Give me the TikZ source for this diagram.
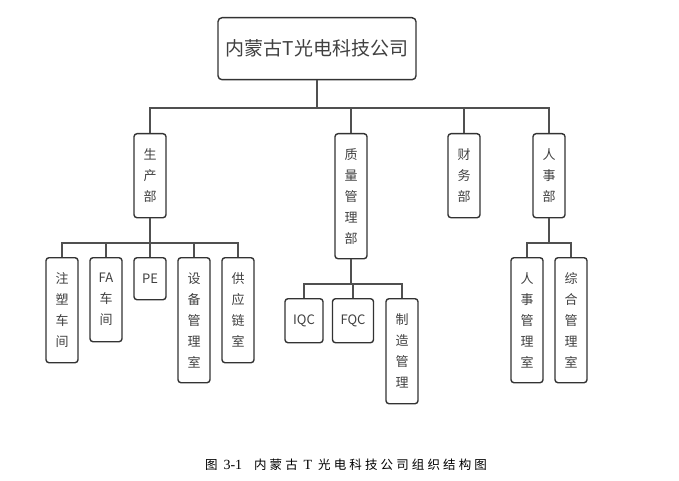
\documentclass[tikz,border=0pt]{standalone}
\usepackage{fontspec}
\setmainfont{Noto Sans CJK SC}
\newfontfamily\capfont[LetterSpace=25]{Noto Sans CJK SC}
\newfontfamily\capnum{Liberation Serif}
\usetikzlibrary{positioning,calc}
\definecolor{boxline}{RGB}{51,51,51}
\definecolor{linkgray}{RGB}{80,80,80}
\definecolor{textgray}{RGB}{64,64,64}
\tikzstyle{company} = [rectangle, rounded corners=4pt, draw=boxline, line width=1.4pt, minimum width=198pt, minimum height=62pt, anchor=north, text=textgray, font=\fontsize{19}{22}\selectfont]
\tikzstyle{dept} = [rectangle, rounded corners=3pt, draw=boxline, line width=1.4pt, minimum width=32pt, inner sep=0pt, anchor=north, align=center, text=textgray, font=\fontsize{13}{21}\selectfont]
\tikzstyle{link} = [line width=1.8pt, draw=linkgray]

\begin{document}
\begin{tikzpicture}[x=1pt, y=-1pt]
\useasboundingbox (0,0) rectangle (679,481);

% Company
\node [company] (company) at (317,17) {内蒙古T光电科技公司};

% Departments
\node [dept, minimum height=84pt] (prod) at (150,133) {生\\产\\部};
\node [dept, minimum height=125pt] (quality) at (351,133) {质\\量\\管\\理\\部};
\node [dept, minimum height=84pt] (finance) at (464,133) {财\\务\\部};
\node [dept, minimum height=84pt] (hr) at (549,133) {人\\事\\部};

% Production units
\node [dept, minimum height=105pt] (inject) at (62,257) {注\\塑\\车\\间};
\node [dept, minimum height=84pt] (fa) at (106,257) {FA\\车\\间};
\node [dept, minimum height=42pt] (pe) at (150,257) {PE};
\node [dept, minimum height=125pt] (equip) at (194,257) {设\\备\\管\\理\\室};
\node [dept, minimum height=105pt] (supply) at (238,257) {供\\应\\链\\室};

% Quality units
\node [dept, minimum width=38pt, minimum height=44pt] (iqc) at (304,298) {IQC};
\node [dept, minimum width=41pt, minimum height=44pt] (fqc) at (353,298) {FQC};
\node [dept, minimum height=105pt] (mfg) at (402,298) {制\\造\\管\\理};

% HR units
\node [dept, minimum height=125pt] (staff) at (527,257) {人\\事\\管\\理\\室};
\node [dept, minimum height=125pt] (general) at (571,257) {综\\合\\管\\理\\室};

% Connectors
\coordinate (topbus) at (317,108);
\draw [link] (company.south) -- (topbus);
\draw [link] (prod.north) |- (topbus) -| (hr.north);
\draw [link] (quality.north) -- (quality.north |- topbus);
\draw [link] (finance.north) -- (finance.north |- topbus);

\coordinate (prodbus) at (150,243);
\draw [link] (prod.south) -- (prodbus);
\draw [link] (inject.north) |- (prodbus) -| (supply.north);
\draw [link] (fa.north) -- (fa.north |- prodbus);
\draw [link] (pe.north) -- (pe.north |- prodbus);
\draw [link] (equip.north) -- (equip.north |- prodbus);

\coordinate (qualbus) at (351,284);
\draw [link] (quality.south) -- (qualbus);
\draw [link] (iqc.north) |- (qualbus) -| (mfg.north);
\draw [link] (fqc.north) -- (fqc.north |- qualbus);

\coordinate (hrbus) at (549,243);
\draw [link] (hr.south) -- (hrbus);
\draw [link] (staff.north) |- (hrbus) -| (general.north);

% Caption
\node [font=\capfont\fontsize{12.5}{15}\selectfont] (caption) at (346,465) {图 {\capnum\fontsize{14}{15}\selectfont 3-1}\ \ 内蒙古 {\capnum\fontsize{14}{15}\selectfont T} 光电科技公司组织结构图};

\end{tikzpicture}
\end{document}
